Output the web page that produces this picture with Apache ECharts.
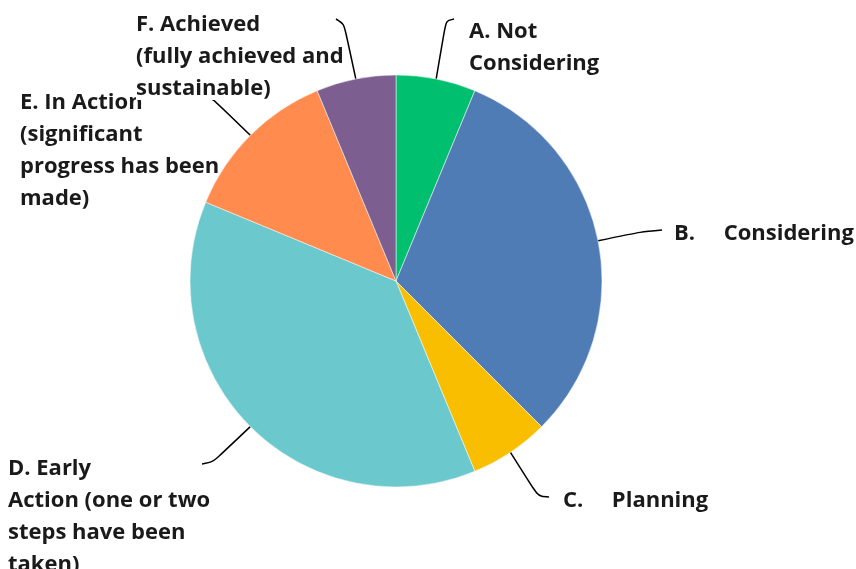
<!DOCTYPE html>
<html>
<head>
<meta charset="utf-8">
<title>Stage pie</title>
<script src="https://cdn.jsdelivr.net/npm/echarts@6/dist/echarts.min.js"></script>
<style>
  html, body { margin: 0; padding: 0; background: #fff; }
  #chart { width: 856px; height: 569px; }
</style>
</head>
<body>
<div id="chart"></div>
<script>
// 类别与数值
const categories = [
    'A. Not Considering',
    'B. Considering',
    'C. Planning',
    'D. Early Action (one or two steps have been taken)',
    'E. In Action (significant progress has been made)',
    'F. Achieved (fully achieved and sustainable)'
];
const values = [1, 5, 1, 6, 2, 1];
// 标签文字（按原图换行）
const labelTexts = [
    'A. Not\nConsidering',
    'B.     Considering',
    'C.     Planning',
    'D. Early\nAction (one or two\nsteps have been\ntaken)',
    'E. In Action\n(significant\nprogress has been\nmade)',
    'F. Achieved\n(fully achieved and\n{w|sustainable)}'
];
const colors = ['#00BF6F', '#507CB6', '#F9BE00', '#6BC8CD', '#FF8B4F', '#7D5E90'];

// 标签左上角位置
const labelPos = [
    [469, 16], [674, 218], [563, 485], [8, 453], [20, 87], [136, 9]
];
// 引导线的拐点与终点
const lineBend = [
    [[446, 21], [454, 19]],
    [[640, 232], [662, 230]],
    [[538, 496], [549, 497]],
    [[213, 462], [202, 464]],
    [[214, 100], [207, 97]],
    [[344, 24], [336, 19]]
];

const chart = echarts.init(document.getElementById('chart'));

const option = {
    animation: false,
    series: [{
        type: 'pie',
        center: [396, 281],
        radius: 206,
        startAngle: 90,
        clockwise: true,
        data: categories.map((name, i) => ({
            name: name,
            value: values[i],
            itemStyle: { color: colors[i] }
        })),
        itemStyle: { borderColor: '#fff', borderWidth: 0.5 },
        label: {
            show: true,
            position: 'outside',
            formatter: p => labelTexts[p.dataIndex],
            fontFamily: 'Open Sans',
            fontWeight: 'bold',
            fontSize: 22,
            lineHeight: 32,
            color: '#1a1a1a',
            overflow: 'none',
            rich: {
                w: {
                    fontFamily: 'Open Sans',
                    fontWeight: 'bold',
                    fontSize: 22,
                    lineHeight: 32,
                    color: '#1a1a1a',
                    backgroundColor: '#fff'
                }
            }
        },
        labelLine: {
            show: true,
            smooth: 0.3,
            length: 20,
            length2: 20,
            lineStyle: { color: '#000', width: 1.5 }
        },
        labelLayout: function (params) {
            const i = params.dataIndex;
            const p = labelPos[i];
            const start = params.labelLinePoints ? params.labelLinePoints[0] : null;
            const res = { x: p[0], y: p[1], align: 'left', verticalAlign: 'top' };
            if (start) {
                res.labelLinePoints = [start, lineBend[i][0], lineBend[i][1]];
            }
            return res;
        }
    }]
};

chart.setOption(option);
</script>
</body>
</html>
